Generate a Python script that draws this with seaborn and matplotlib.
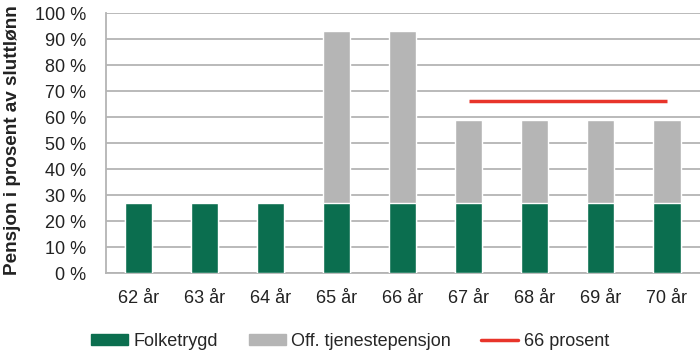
import numpy as np
import pandas as pd
import seaborn as sns
import matplotlib.pyplot as plt
from matplotlib.patches import Patch
from matplotlib.lines import Line2D

# Data
ages = ["62 år", "63 år", "64 år", "65 år", "66 år", "67 år", "68 år", "69 år", "70 år"]
folketrygd = [27, 27, 27, 27, 27, 27, 27, 27, 27]
tjenestepensjon = [0, 0, 0, 66, 66, 32, 32, 32, 32]
target_ages = ["67 år", "68 år", "69 år", "70 år"]
target = [66, 66, 66, 66]

green = "#0b6e4f"
grey = "#b5b5b5"
red = "#e8342a"
gridc = "#b4b4b4"

sns.set_style("white")
plt.rcParams['font.family'] = ['Liberation Sans', 'DejaVu Sans']

df = pd.DataFrame({"age": ages, "folk": folketrygd, "tjen": tjenestepensjon})
df["total"] = df["folk"] + df["tjen"]

fig = plt.figure(figsize=(7, 3.52), dpi=100)
ax = fig.add_axes([0.151, 0.224, 0.849, 0.739])

sns.barplot(data=df, x="age", y="total", color=grey, width=0.41, ax=ax,
            saturation=1, order=ages, zorder=3)
sns.barplot(data=df, x="age", y="folk", color=green, width=0.41, ax=ax,
            saturation=1, order=ages, zorder=3)

xpos = [ages.index(a) for a in target_ages]
ax.plot(xpos, target, color=red, lw=2.5, zorder=4, solid_capstyle="butt")

ax.set_ylim(0, 100)
ax.set_xlim(-0.5, len(ages) - 0.5)
ax.set_yticks(np.arange(0, 101, 10))
ax.set_yticklabels([f"{v} %" for v in range(0, 101, 10)], fontsize=13, color="#222222")
ax.yaxis.grid(True, color=gridc, lw=1.3, zorder=0)
ax.set_axisbelow(True)

ax.set_xticks(range(len(ages)))
ax.set_xticklabels(ages, fontsize=13, color="#222222")
ax.set_xticks(np.arange(-0.5, len(ages) + 0.5, 1), minor=True)
ax.tick_params(axis="x", which="major", length=0, pad=12)
ax.tick_params(axis="x", which="minor", length=5, color=gridc, width=1.3)
ax.tick_params(axis="y", length=5, color=gridc, width=1.3, pad=9)

for s in ["top", "right"]:
    ax.spines[s].set_visible(False)
for s in ["left", "bottom"]:
    ax.spines[s].set_color(gridc)
    ax.spines[s].set_linewidth(1.3)

ax.set_xlabel("")
ax.set_ylabel("Pensjon i prosent av sluttlønn", fontsize=13.6, fontweight="bold",
              color="#222222")
ax.yaxis.set_label_coords(-0.143, 0.51)

handles = [Patch(color=green, label="Folketrygd"),
           Patch(color=grey, label="Off. tjenestepensjon"),
           Line2D([0], [0], color=red, lw=2.5, label="66 prosent")]
fig.legend(handles=handles, loc="lower center", bbox_to_anchor=(0.5, -0.04), ncol=3,
           frameon=False, fontsize=13, handlelength=2.05, handleheight=0.5,
           columnspacing=1.7, handletextpad=0.3)

fig.savefig("out.png", dpi=100)
